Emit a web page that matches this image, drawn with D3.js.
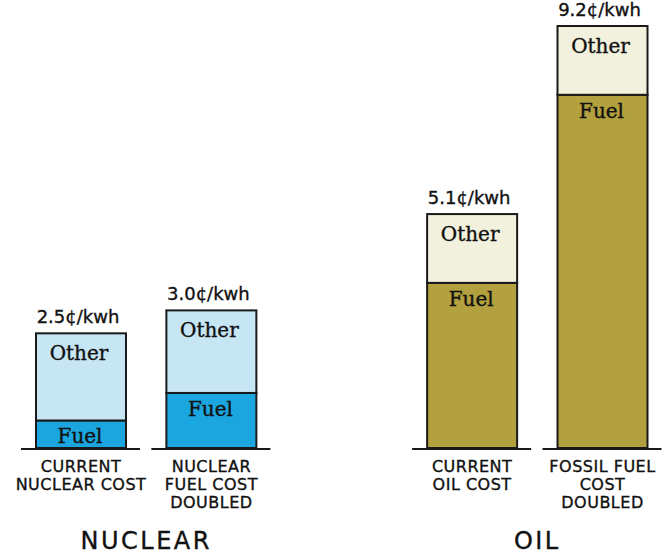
<!DOCTYPE html>
<html>
<head>
<meta charset="utf-8">
<script src="https://cdn.jsdelivr.net/npm/d3@7"></script>
<style>
  body { margin: 0; background: #fff; }
  text { fill: #111; stroke: #111; stroke-width: 0.35px; }
</style>
</head>
<body>
<div id="draw_zone"></div>
<script>
// values in cents per kwh
var slots = [0, 1, 3, 4];
var fuel = [0.6, 1.2, 3.6, 7.7];
var other = [1.9, 1.8, 1.5, 1.5];
var totals = ["2.5¢/kwh", "3.0¢/kwh", "5.1¢/kwh", "9.2¢/kwh"];
var labels = [["CURRENT", "NUCLEAR COST"], ["NUCLEAR", "FUEL COST", "DOUBLED"], ["CURRENT", "OIL COST"], ["FOSSIL FUEL", "COST", "DOUBLED"]];
var kinds = ["nuclear", "nuclear", "oil", "oil"];
var groups = ["NUCLEAR", "OIL"];
var groupSlots = [[0, 1], [3, 4]];

var colors = {
  nuclear: { fuel: "#1ba6df", other: "#c6e6f3" },
  oil: { fuel: "#b3a03e", other: "#f2f1dd" }
};

var base = 448, barW = 90;

var holder = d3.select("#draw_zone").append("svg").attr("width", 663).attr("height", 555);

var x = d3.scaleLinear().domain([0, 4]).range([81, 602.5]);
var y = d3.scaleLinear().domain([0, 9.2]).range([base, base - 422]);

var bars = slots.map(function(s, i) {
  return { slot: s, fuel: fuel[i], other: other[i], total: totals[i], label: labels[i], kind: kinds[i] };
});

var g = holder.selectAll("g.bar").data(bars).enter().append("g").attr("class", "bar");

// fuel part
g.append("rect")
  .attr("x", function(d) { return x(d.slot) - barW / 2; })
  .attr("y", function(d) { return y(d.fuel); })
  .attr("width", barW)
  .attr("height", function(d) { return base - y(d.fuel); })
  .style("fill", function(d) { return colors[d.kind].fuel; })
  .style("stroke", "#1a1a1a").style("stroke-width", 2);

// other part
g.append("rect")
  .attr("x", function(d) { return x(d.slot) - barW / 2; })
  .attr("y", function(d) { return y(d.fuel + d.other); })
  .attr("width", barW)
  .attr("height", function(d) { return y(d.fuel) - y(d.fuel + d.other); })
  .style("fill", function(d) { return colors[d.kind].other; })
  .style("stroke", "#1a1a1a").style("stroke-width", 2);

// baseline under each bar
g.append("line")
  .attr("x1", function(d) { return x(d.slot) - barW / 2 - 15; })
  .attr("x2", function(d) { return x(d.slot) + barW / 2 + 14; })
  .attr("y1", base + 1).attr("y2", base + 1)
  .style("stroke", "#1a1a1a").style("stroke-width", 2);

g.append("text")
  .attr("x", function(d) { return x(d.slot) - 3; })
  .attr("y", function(d) { return y(d.fuel + d.other) - 10; })
  .attr("text-anchor", "middle")
  .style("font-family", "DejaVu Sans").style("font-size", "18px")
  .text(function(d) { return d.total; });

g.append("text")
  .attr("x", function(d) { return x(d.slot) - 2; })
  .attr("y", function(d) { return y(d.fuel + d.other) + 27; })
  .attr("text-anchor", "middle")
  .style("font-family", "DejaVu Serif").style("font-size", "20px")
  .text("Other");

g.append("text")
  .attr("x", function(d) { return x(d.slot) - 1; })
  .attr("y", function(d) { return y(d.fuel) + 23; })
  .attr("text-anchor", "middle")
  .style("font-family", "DejaVu Serif").style("font-size", "20px")
  .text("Fuel");

g.each(function(d) {
  var t = d3.select(this).append("text")
    .attr("text-anchor", "middle")
    .style("font-family", "DejaVu Sans").style("font-size", "16px")
    .style("letter-spacing", "0.5px");
  d.label.forEach(function(line, j) {
    t.append("tspan").attr("x", x(d.slot)).attr("y", base + 24 + j * 18).text(line);
  });
});

holder.selectAll("text.group").data(groups).enter().append("text")
  .attr("class", "group")
  .attr("x", function(d, i) { return d3.mean(groupSlots[i].map(x)); })
  .attr("y", 549)
  .attr("text-anchor", "middle")
  .style("font-family", "DejaVu Sans").style("font-size", "24px")
  .style("letter-spacing", "2.5px")
  .text(function(d) { return d; });
</script>
</body>
</html>
